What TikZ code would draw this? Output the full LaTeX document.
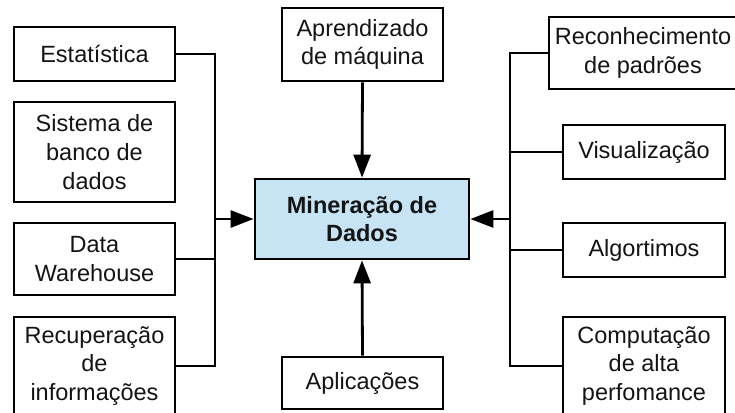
\documentclass[tikz,border=0pt]{standalone}
\usepackage{fontspec}
\setmainfont{Liberation Sans}
\usetikzlibrary{arrows.meta}
\definecolor{centerfill}{RGB}{199,228,245}
\definecolor{txt}{RGB}{20,20,20}
\tikzset{
  box/.style={draw=black, line width=2.8pt, inner sep=0pt, align=center,
    text=txt, font=\fontsize{23.5}{28.8}\selectfont},
  conn/.style={line width=2.8pt, draw=black},
  arr/.style={conn, -{Triangle[length=23pt,width=17pt]}}
}
\begin{document}
\begin{tikzpicture}[x=1pt,y=-1pt]
\useasboundingbox (0,0) rectangle (735,412);
\clip (0,0) rectangle (735,412);
% left column
\node[box, minimum width=161pt, minimum height=54pt] (est) at (94.5,54) {Estatística};
\node[box, minimum width=161pt, minimum height=100pt] (sis) at (94.5,152) {Sistema de\\banco de\\dados};
\node[box, minimum width=161pt, minimum height=72pt] (dw) at (94.5,259) {Data\\Warehouse};
\node[box, minimum width=161pt, minimum height=98pt] (rec) at (94.5,366) {Recuperação\\de\\informações};
% center column
\node[box, minimum width=161pt, minimum height=73pt] (apr) at (362.5,44.5) {Aprendizado\\de máquina};
\node[box, fill=centerfill, minimum width=214pt, minimum height=80pt, font=\fontsize{23.5}{28.8}\selectfont\bfseries] (cm) at (362,219) {Mineração de\\Dados};
\node[box, minimum width=161pt, minimum height=52pt] (apl) at (362.5,383) {Aplicações};
% right column
\node[box, minimum width=188pt, minimum height=72pt] (reco) at (643,53) {Reconhecimento\\de padrões};
\node[box, minimum width=162pt, minimum height=54pt] (vis) at (644,152) {Visualização};
\node[box, minimum width=162pt, minimum height=54pt] (alg) at (644,250) {Algortimos};
\node[box, minimum width=162pt, minimum height=98pt] (comp) at (644,366) {Computação\\de alta\\perfomance};
% bus coordinates
\coordinate (lbot) at (215,366);
\coordinate (rbot) at (510,366);
% left connectors
\draw[conn] (est.east) -| (lbot) -- (rec.east);
\draw[conn] (dw.east) -- (dw.east -| lbot);
\draw[arr] (lbot |- cm.west) -- (cm.west);
% right connectors
\draw[conn] (reco.west) -| (rbot) -- (comp.west);
\draw[conn] (vis.west) -- (vis.west -| rbot);
\draw[conn] (alg.west) -- (alg.west -| rbot);
\draw[arr] (rbot |- cm.east) -- (cm.east);
% vertical arrows
\draw[arr] (apr.south) -- (cm.north);
\draw[arr] (apl.north) -- (cm.south);
\end{tikzpicture}
\end{document}
